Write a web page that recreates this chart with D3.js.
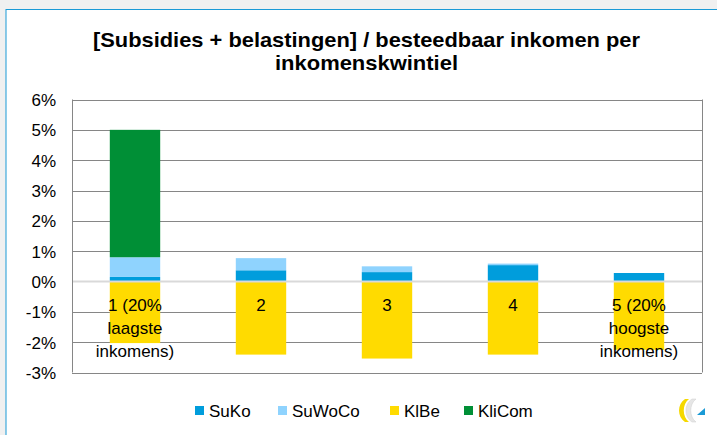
<!DOCTYPE html>
<html><head><meta charset="utf-8">
<script src="https://cdn.jsdelivr.net/npm/d3@7"></script>
<style>
html,body{margin:0;padding:0;background:#f0f0f0;}
svg{display:block;}
</style></head>
<body>
<svg id="c" width="717" height="435"></svg>
<script>
const categories = ["1 (20% laagste inkomens)", "2", "3", "4", "5 (20% hoogste inkomens)"];
const categoryLines = [["1 (20%", "laagste", "inkomens)"], ["2"], ["3"], ["4"], ["5 (20%", "hoogste", "inkomens)"]];
const seriesNames = ["SuKo", "SuWoCo", "KlBe", "KliCom"];
const SuKo = [0.15, 0.37, 0.31, 0.54, 0.28];
const SuWoCo = [0.65, 0.40, 0.19, 0.05, 0.0];
const KlBe = [-2.03, -2.41, -2.54, -2.41, -2.25];
const KliCom = [4.20, 0, 0, 0, 0];
const yTicks = [-3, -2, -1, 0, 1, 2, 3, 4, 5, 6];
const colors = {SuKo: "#009ddc", SuWoCo: "#8fd3fe", KlBe: "#ffdb00", KliCom: "#008f36"};

const rows = categories.map((c, i) => ({cat: c, SuKo: SuKo[i], SuWoCo: SuWoCo[i], KlBe: KlBe[i], KliCom: KliCom[i]}));

const svg = d3.select("#c");
// chart frame
svg.append("rect").attr("x", 6).attr("y", 9.5).attr("width", 720).attr("height", 440)
  .attr("fill", "#fff").attr("stroke", "#1a9ad6").attr("stroke-width", 1);

const plot = {l: 72, r: 702, t: 99.5, b: 372.5};
const x = d3.scaleBand().domain(categories).range([plot.l, plot.r]).paddingInner(0.6).paddingOuter(0.3);
const y = d3.scaleLinear().domain([-3, 6]).range([plot.b, plot.t]);

// title (condensed bold)
const title = svg.append("text").attr("text-anchor", "middle")
  .attr("font-family", "'Liberation Sans Narrow', 'Arial Narrow', 'Liberation Sans', Arial, sans-serif")
  .attr("font-weight", "bold").attr("font-size", 21).attr("fill", "#000");
title.append("tspan").attr("x", 366.5).attr("y", 47).attr("textLength", 547).attr("lengthAdjust", "spacingAndGlyphs")
  .text("[Subsidies + belastingen] / besteedbaar inkomen per");
title.append("tspan").attr("x", 366.5).attr("y", 70).attr("textLength", 183).attr("lengthAdjust", "spacingAndGlyphs")
  .text("inkomenskwintiel");

// gridlines
svg.append("g").selectAll("line").data(yTicks.filter(t => t !== 0)).join("line")
  .attr("x1", plot.l).attr("x2", plot.r)
  .attr("y1", d => Math.round(y(d)) + 0.5).attr("y2", d => Math.round(y(d)) + 0.5)
  .attr("stroke", "#868686").attr("stroke-width", 1);

// bars
const stack = d3.stack().keys(["SuKo", "SuWoCo", "KliCom", "KlBe"]).offset(d3.stackOffsetDiverging);
const stacked = stack(rows);
svg.append("g").selectAll("g").data(stacked).join("g")
  .attr("fill", d => colors[d.key])
  .selectAll("rect").data(d => d).join("rect")
  .attr("x", d => x(d.data.cat))
  .attr("width", x.bandwidth())
  .attr("y", d => y(d[1]))
  .attr("height", d => Math.max(0, y(d[0]) - y(d[1])));

// zero line
svg.append("line").attr("x1", plot.l).attr("x2", plot.r)
  .attr("y1", y(0)).attr("y2", y(0)).attr("stroke", "#d9d9d9").attr("stroke-width", 2);

// plot border (left, right)
svg.append("line").attr("x1", plot.l + 0.5).attr("x2", plot.l + 0.5).attr("y1", plot.t).attr("y2", plot.b).attr("stroke", "#868686");
svg.append("line").attr("x1", plot.r + 0.5).attr("x2", plot.r + 0.5).attr("y1", plot.t).attr("y2", plot.b).attr("stroke", "#868686");

// y axis labels
const yAxis = d3.axisLeft(y).tickValues(yTicks).tickSize(0).tickPadding(0).tickFormat(d => d + "%");
const gy = svg.append("g").attr("transform", `translate(56,0)`).call(yAxis);
gy.select(".domain").remove();
gy.selectAll("text").attr("font-family", "'Liberation Sans', Arial, sans-serif").attr("font-size", 17).attr("fill", "#000").attr("dy", "0.35em");

// category labels
const catG = svg.append("g").attr("font-family", "'Liberation Sans', Arial, sans-serif").attr("font-size", 17).attr("fill", "#000").attr("text-anchor", "middle");
categories.forEach((c, i) => {
  const t = catG.append("text");
  categoryLines[i].forEach((ln, j) => {
    t.append("tspan").attr("x", x(c) + x.bandwidth() / 2).attr("y", 311 + j * 23).text(ln);
  });
});

// legend
const legendX = [195, 278, 390, 464];
const lg = svg.append("g").attr("font-family", "'Liberation Sans', Arial, sans-serif").attr("font-size", 17);
seriesNames.forEach((s, i) => {
  lg.append("rect").attr("x", legendX[i]).attr("y", 406).attr("width", 9).attr("height", 9).attr("fill", colors[s]);
  lg.append("text").attr("x", legendX[i] + 14).attr("y", 417).text(s).attr("fill", "#000");
});

// logo approximation
const logo = svg.append("g").attr("transform", "translate(676,398)");
logo.append("path").attr("d", "M9,1 C1,6 1,19 9,24 L13,24 C6,19 6,6 13,1 Z").attr("fill", "#f5d800");
logo.append("path").attr("d", "M16,1 C8,6 8,19 16,24 L20,24 C13,19 13,6 20,1 Z").attr("fill", "#e6e6e6").attr("stroke", "#cfcfcf").attr("stroke-width", 0.5);
logo.append("path").attr("d", "M21,17 L29,10 L29,17 Z").attr("fill", "#1a9ad6");
</script>
</body></html>
